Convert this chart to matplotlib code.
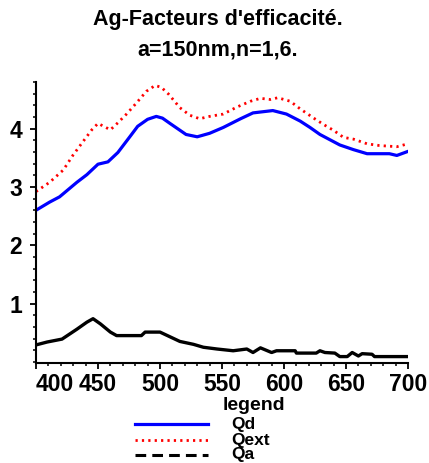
import matplotlib
matplotlib.use("Agg")
import matplotlib.pyplot as plt
from matplotlib.lines import Line2D
from matplotlib.ticker import MultipleLocator

# Efficiency factors of a silver particle (a = 150 nm, n = 1.6) versus wavelength (nm)
wl_qd = [400, 411, 419, 433, 441, 450, 458, 466, 476, 482, 490, 497, 502, 508,
         521, 530, 540, 551, 565, 575, 591, 602, 613, 621, 629, 637, 645, 656,
         667, 685, 691, 700]
qd = [2.60, 2.74, 2.83, 3.08, 3.21, 3.39, 3.43, 3.59, 3.87, 4.04, 4.16, 4.21,
      4.18, 4.09, 3.90, 3.86, 3.92, 4.02, 4.17, 4.27, 4.31, 4.25, 4.13, 4.02,
      3.90, 3.81, 3.72, 3.64, 3.57, 3.57, 3.54, 3.61]

wl_qext = [400, 411, 422, 430, 438, 445, 450, 460, 466, 473, 481, 489, 496, 501,
           507, 516, 524, 532, 540, 551, 562, 573, 581, 589, 595, 605, 613, 624,
           632, 640, 648, 656, 667, 677, 691, 700]
qext = [2.92, 3.08, 3.29, 3.55, 3.78, 3.98, 4.09, 3.98, 4.10, 4.25, 4.44, 4.64,
        4.74, 4.71, 4.59, 4.36, 4.23, 4.17, 4.21, 4.25, 4.37, 4.47, 4.52, 4.50,
        4.53, 4.47, 4.34, 4.18, 4.07, 3.97, 3.85, 3.82, 3.74, 3.71, 3.69, 3.74]

wl_qa = [400, 409, 421, 433, 441, 446, 452, 460, 465, 485, 488, 500, 508, 516,
         527, 535, 546, 559, 570, 575, 581, 590, 594, 609, 610, 626, 629, 633,
         641, 645, 651, 655, 660, 663, 671, 673, 700]
qa = [0.29, 0.34, 0.39, 0.56, 0.68, 0.74, 0.65, 0.51, 0.45, 0.45, 0.51, 0.51,
      0.43, 0.35, 0.30, 0.25, 0.22, 0.19, 0.22, 0.16, 0.24, 0.16, 0.19, 0.19,
      0.15, 0.15, 0.19, 0.16, 0.15, 0.09, 0.09, 0.16, 0.10, 0.14, 0.13, 0.09,
      0.09]

x_ticks = [400, 450, 500, 550, 600, 650, 700]
y_ticks = [1, 2, 3, 4]
series_names = ["Qd", "Qext", "Qa"]
title_lines = ["Ag-Facteurs d'efficacité.", "a=150nm,n=1,6."]
legend_title = "legend"

FONT = ["Liberation Sans Narrow", "Liberation Sans", "DejaVu Sans"]

fig = plt.figure(figsize=(4.29, 4.63), dpi=100)
ax = fig.add_axes([36 / 429, 1 - 363 / 463, 372 / 429, 281 / 463])

style_qd = dict(color="#0000ff", lw=2.3, ls="-")
style_qext = dict(color="#ff0000", lw=2.0, ls=(0, (0.8, 1.5)))
style_qa = dict(color="#000000", lw=2.4, ls="-")

ax.plot(wl_qd, qd, **style_qd)
ax.plot(wl_qext, qext, **style_qext)
ax.plot(wl_qa, qa, **style_qa)

ax.set_xlim(400, 700)
ax.set_ylim(-0.02, 4.8)

for s in ("top", "right"):
    ax.spines[s].set_visible(False)
for s in ("left", "bottom"):
    ax.spines[s].set_linewidth(1.5)

ax.set_xticks(x_ticks)
ax.set_yticks(y_ticks)
ax.xaxis.set_minor_locator(MultipleLocator(10))
ax.yaxis.set_minor_locator(MultipleLocator(0.2))
ax.tick_params(which="major", length=4, width=1.3, pad=3, direction="out")
ax.tick_params(which="minor", length=2.5, width=1.1, direction="out")
ax.tick_params(axis="y", which="major", pad=6)

ax.set_xticklabels([str(v) for v in x_ticks])
ax.set_yticklabels([str(v) for v in y_ticks])
for lab in ax.get_xticklabels() + ax.get_yticklabels():
    lab.set_fontfamily(FONT)
    lab.set_fontweight("bold")
    lab.set_fontsize(16.5)
ax.get_xticklabels()[0].set_horizontalalignment("left")

# Title
fig.text(218 / 429, 1 - 20 / 463, title_lines[0], ha="center", va="center",
         fontfamily=FONT, fontweight="bold", fontsize=15.5)
fig.text(218 / 429, 1 - 50 / 463, title_lines[1], ha="center", va="center",
         fontfamily=FONT, fontweight="bold", fontsize=15.5)

# Legend block below the axes
fig.text(254 / 429, 1 - 406 / 463, legend_title, ha="center", va="center",
         fontfamily=FONT, fontweight="bold", fontsize=14)
legend_styles = [style_qd, style_qext, dict(color="#000000", lw=2.2, ls=(0, (3.5, 2)))]
rows_y = [424, 440, 455]
for name, st, yy in zip(series_names, legend_styles, rows_y):
    yf = 1 - yy / 463
    fig.add_artist(Line2D([135 / 429, 208 / 429], [yf, yf], transform=fig.transFigure, **st))
    fig.text(231 / 429, yf, name, ha="left", va="center",
             fontfamily=FONT, fontweight="bold", fontsize=12.5)

fig.savefig("out.png", dpi=100)
